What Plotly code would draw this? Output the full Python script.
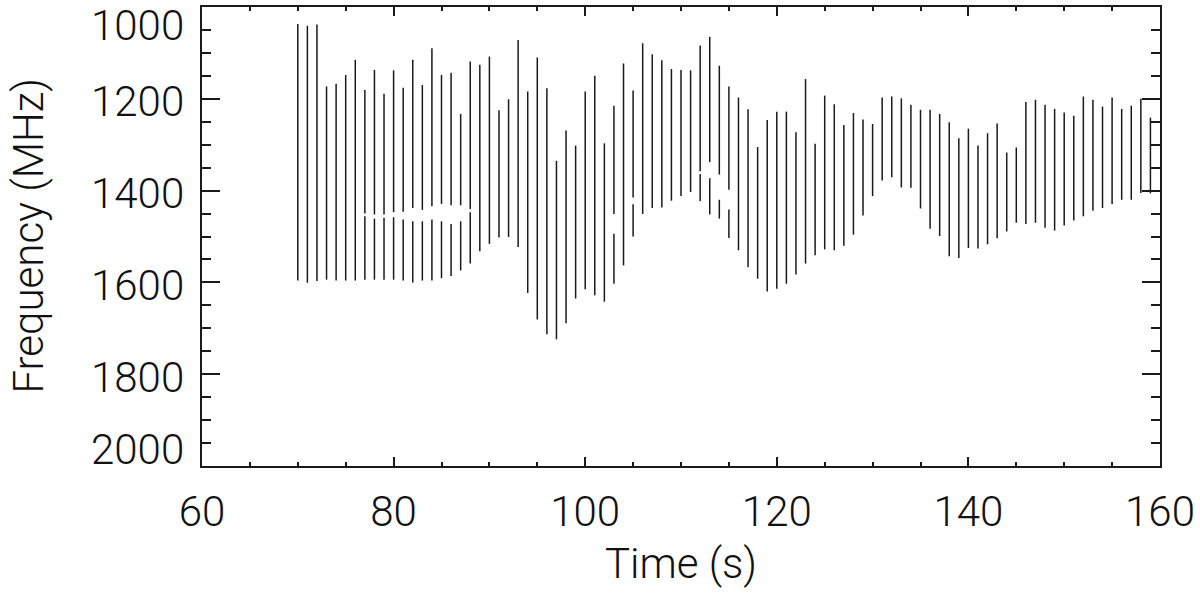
import plotly.graph_objects as go

# ---- data ----
times = list(range(70, 160))
f_top = [1037, 1041, 1038, 1173, 1167, 1148, 1115, 1181, 1137, 1189,
         1138, 1176, 1115, 1170, 1090, 1148, 1143, 1233, 1119, 1126,
         1108, 1225, 1201, 1072, 1184, 1110, 1177, 1335, 1269, 1302,
         1184, 1150, 1297, 1215, 1123, 1182, 1079, 1103, 1116, 1135,
         1137, 1138, 1084, 1065, 1128, 1173, 1197, 1223, 1305, 1246,
         1228, 1228, 1273, 1157, 1298, 1193, 1212, 1257, 1231, 1245,
         1255, 1197, 1195, 1199, 1213, 1224, 1224, 1233, 1251, 1286,
         1265, 1302, 1275, 1254, 1317, 1306, 1207, 1202, 1213, 1222,
         1230, 1237, 1195, 1202, 1217, 1197, 1222, 1215, 1200, 1241]
f_bottom = [1596, 1601, 1597, 1594, 1596, 1596, 1596, 1594, 1594, 1594,
            1594, 1596, 1600, 1596, 1596, 1591, 1586, 1574, 1559, 1532,
            1516, 1502, 1501, 1523, 1623, 1681, 1713, 1724, 1689, 1635,
            1615, 1628, 1642, 1603, 1563, 1500, 1451, 1438, 1437, 1422,
            1412, 1403, 1423, 1452, 1461, 1503, 1530, 1567, 1592, 1620,
            1614, 1603, 1583, 1559, 1541, 1528, 1530, 1520, 1496, 1454,
            1412, 1378, 1371, 1393, 1394, 1439, 1483, 1499, 1543, 1547,
            1525, 1526, 1517, 1504, 1489, 1470, 1473, 1470, 1481, 1487,
            1476, 1465, 1456, 1444, 1438, 1429, 1420, 1420, 1405, 1406]

# gaps inside some bars: time, end of upper part, start of lower part
gap_time = [77, 78, 79, 80, 81, 82, 83, 84, 85, 86, 87, 88,
            103, 105, 112, 113, 114, 115]
gap_from = [1450, 1452, 1452, 1447, 1446, 1438, 1442, 1434, 1429, 1432, 1432, 1440,
            1451, 1415, 1358, 1338, 1365, 1398]
gap_to = [1456, 1461, 1459, 1458, 1463, 1467, 1467, 1463, 1467, 1473, 1467, 1447,
          1494, 1430, 1364, 1373, 1420, 1441]

x_ticks = [60, 80, 100, 120, 140, 160]
y_ticks = [1000, 1200, 1400, 1600, 1800, 2000]
y_tick_text = ["1000", "1200", "1400", "1600", "1800", "2000"]

# ---- build segments ----
gaps = {t: (a, b) for t, a, b in zip(gap_time, gap_from, gap_to)}
xs, ys = [], []
for t, top, bot in zip(times, f_top, f_bottom):
    if t in gaps:
        a, b = gaps[t]
        xs += [t, t, None, t, t, None]
        ys += [top, a, None, b, bot, None]
    else:
        xs += [t, t, None]
        ys += [top, bot, None]

INK = "#1a1a1a"
TXT = "#111"
FONT = dict(family="Roboto", size=42, color=TXT, weight=300)

fig = go.Figure()
fig.add_trace(go.Scatter(x=xs, y=ys, mode="lines",
                         line=dict(color=INK, width=1.5),
                         connectgaps=False, showlegend=False,
                         hoverinfo="skip"))

axis_common = dict(
    showline=True, linewidth=1.5, linecolor=INK, mirror="allticks",
    ticks="inside", tickwidth=1.5, tickcolor=INK,
    showgrid=False, zeroline=False,
)

fig.update_xaxes(
    range=[60, 160], tickvals=x_ticks, ticklen=9,
    minor=dict(dtick=5, ticks="inside", ticklen=4.5, tickwidth=1.5, tickcolor=INK),
    tickfont=FONT,
    title=dict(text="Time (s)", font=FONT, standoff=13),
    ticklabelstandoff=8, ticklabeloverflow="allow",
    **axis_common,
)
fig.update_yaxes(
    range=[2000, 1000], tickvals=y_ticks, ticklen=18, showticklabels=False,
    minor=dict(dtick=50, ticks="inside", ticklen=9, tickwidth=1.5, tickcolor=INK),
    **axis_common,
)

# y tick labels (IDL keeps the end labels inside the frame)
shifts = [-18, -3, -3, -3, -3, 17]
for v, txt, s in zip(y_ticks, y_tick_text, shifts):
    fig.add_annotation(x=0, xref="paper", y=v, yref="y", text=txt,
                       xanchor="right", yanchor="middle", xshift=-16, yshift=s,
                       showarrow=False, font=FONT)

fig.add_annotation(x=0, xref="paper", y=0.5, yref="paper", text="Frequency (MHz)",
                   textangle=-90, xanchor="center", yanchor="middle", xshift=-174,
                   showarrow=False, font=FONT)

fig.update_layout(
    width=1200, height=596, autosize=False,
    margin=dict(l=202, r=38, t=5, b=130),
    paper_bgcolor="white", plot_bgcolor="white",
)

fig.write_html("out.html", config={"displayModeBar": False},
               post_script="document.body.style.margin='0';")
